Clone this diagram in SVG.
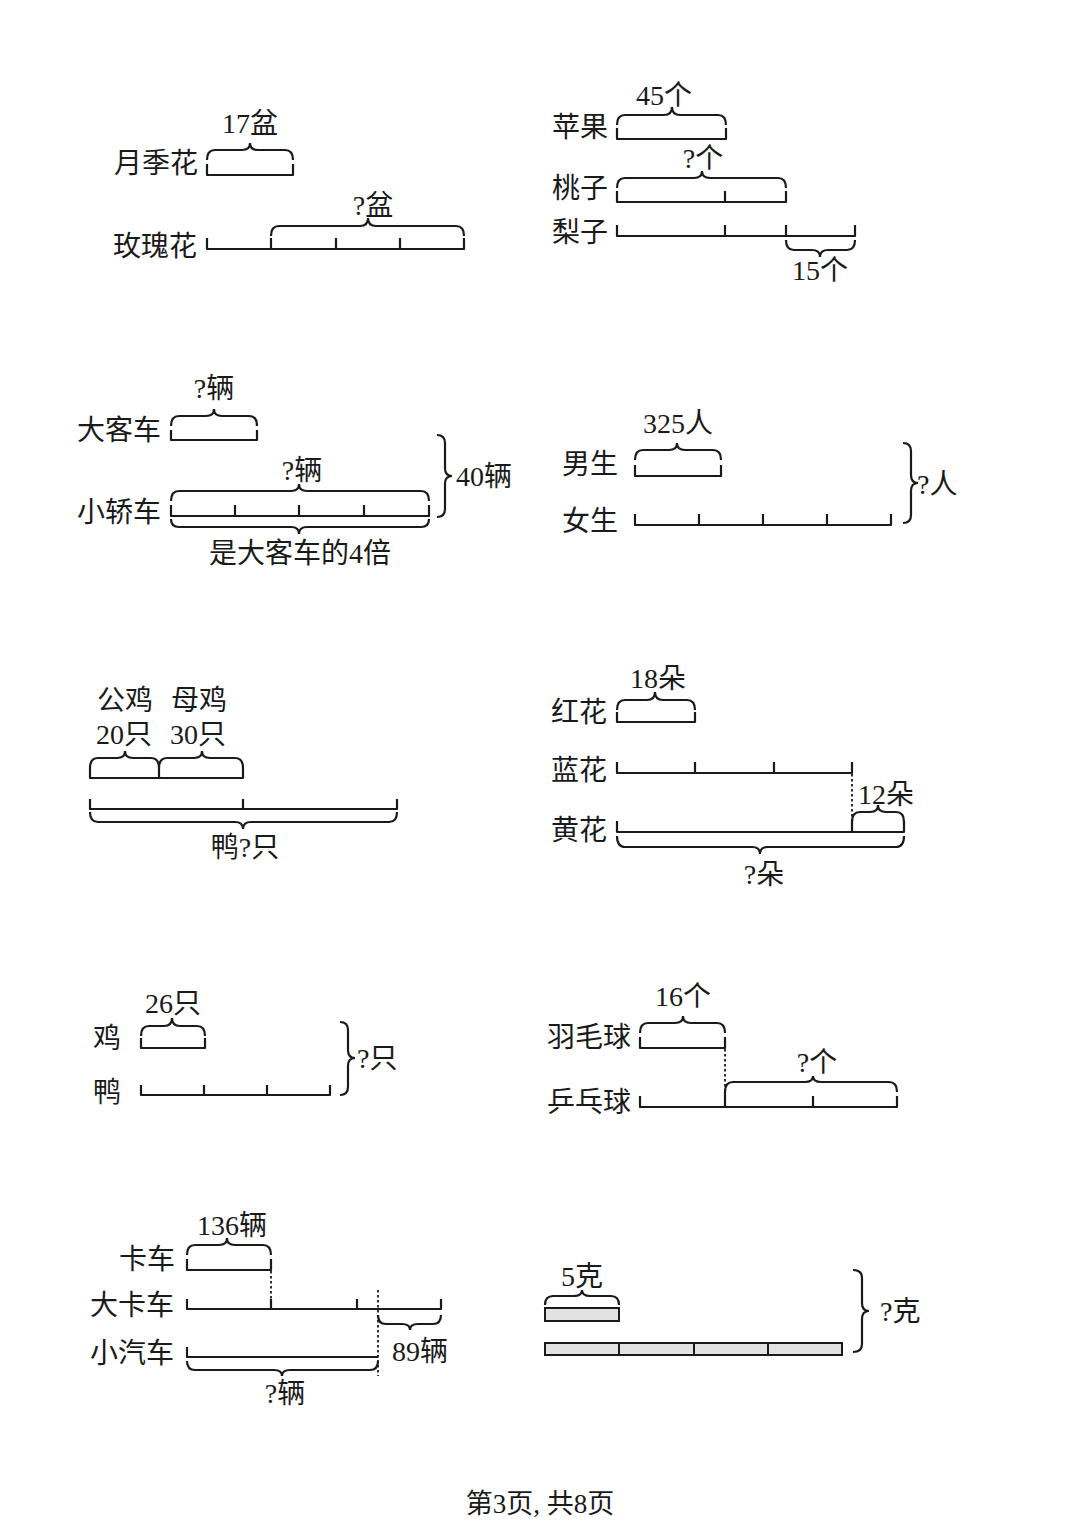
<svg xmlns="http://www.w3.org/2000/svg" width="1080" height="1527" viewBox="0 0 1080 1527">
<style>
.t{font-family:"Liberation Serif","Noto Sans CJK SC",serif;font-size:28px;fill:#1a1a1a}
.m{text-anchor:middle}
.e{text-anchor:end}
.ln{fill:none;stroke:#1a1a1a;stroke-width:2.2;stroke-linejoin:round}
.br{fill:none;stroke:#1a1a1a;stroke-width:2.2}
.dt{fill:none;stroke:#1a1a1a;stroke-width:1.8;stroke-dasharray:2.5 2.5}
.bx{fill:#e2e2e2;stroke:#1a1a1a;stroke-width:2}
</style>
<rect width="1080" height="1527" fill="#ffffff"/>

<g id="p1">
<text class="t m" x="250" y="133">17盆</text>
<text class="t e" x="198" y="173">月季花</text>
<path class="br" d="M207,160 Q207,150 215,150 H242 Q250,150 250,143 Q250,150 258,150 H285 Q293,150 293,160"/>
<path class="ln" d="M207,164 V175 H293 V164"/>
<text class="t m" x="373" y="215">?盆</text>
<text class="t e" x="197" y="256">玫瑰花</text>
<path class="br" d="M271,236 Q271,226 279,226 H360 Q368,226 368,218 Q368,226 376,226 H456 Q464,226 464,236"/>
<path class="ln" d="M207,238 V249 H464 V238 M271,238 V249 M336,238 V249 M400,238 V249"/>
</g>

<g id="p2">
<text class="t m" x="664" y="105">45个</text>
<text class="t e" x="608" y="137">苹果</text>
<path class="br" d="M617,125 Q617,115 625,115 H664 Q672,115 672,107 Q672,115 680,115 H718 Q726,115 726,125"/>
<path class="ln" d="M617,128 V139 H726 V128"/>
<text class="t m" x="703" y="168">?个</text>
<text class="t e" x="608" y="198">桃子</text>
<path class="br" d="M617,188 Q617,178 625,178 H694 Q702,178 702,171 Q702,178 710,178 H778 Q786,178 786,188"/>
<path class="ln" d="M617,191 V202 H786 V191 M725,191 V202"/>
<text class="t e" x="608" y="242">梨子</text>
<path class="ln" d="M617,225 V236 H855 V225 M725,225 V236 M786,225 V236"/>
<path class="br" d="M786,240 Q786,250 794,250 H812 Q820,250 820,257 Q820,250 828,250 H847 Q855,250 855,240"/>
<text class="t m" x="820" y="280">15个</text>
</g>

<g id="p3">
<text class="t m" x="214" y="398">?辆</text>
<text class="t e" x="161" y="440">大客车</text>
<path class="br" d="M171,426 Q171,416 179,416 H206 Q214,416 214,409 Q214,416 222,416 H249 Q257,416 257,426"/>
<path class="ln" d="M171,430 V440 H257 V430"/>
<text class="t m" x="302" y="480">?辆</text>
<text class="t e" x="161" y="522">小轿车</text>
<path class="br" d="M171,501 Q171,491 179,491 H291 Q299,491 299,484 Q299,491 307,491 H421 Q429,491 429,501"/>
<path class="ln" d="M171,505 V516 H429 V505 M235,505 V516 M299,505 V516 M364,505 V516"/>
<path class="br" d="M171,519 Q171,527 179,527 H291 Q299,527 299,534 Q299,527 307,527 H421 Q429,527 429,519"/>
<text class="t m" x="300" y="563">是大客车的4倍</text>
<path class="br" d="M437,435 Q445,435 445,443 V468 Q445,476 452,476 Q445,476 445,484 V509 Q445,517 437,517"/>
<text class="t" x="456" y="486">40辆</text>
</g>

<g id="p4">
<text class="t m" x="678" y="433">325人</text>
<text class="t e" x="618" y="474">男生</text>
<path class="br" d="M635,460 Q635,450 643,450 H669 Q677,450 677,443 Q677,450 685,450 H713 Q721,450 721,460"/>
<path class="ln" d="M635,465 V476 H721 V465"/>
<text class="t e" x="618" y="531">女生</text>
<path class="ln" d="M635,514 V525 H891 V514 M699,514 V525 M763,514 V525 M827,514 V525"/>
<path class="br" d="M903,443 Q911,443 911,451 V475 Q911,483 918,483 Q911,483 911,491 V515 Q911,523 903,523"/>
<text class="t" x="917" y="494">?人</text>
</g>

<g id="p5">
<text class="t m" x="125" y="710">公鸡</text>
<text class="t m" x="199" y="710">母鸡</text>
<text class="t m" x="124" y="744">20只</text>
<text class="t m" x="198" y="744">30只</text>
<path class="br" d="M90,768 Q90,758 98,758 H117 Q125,758 125,751 Q125,758 133,758 H151 Q159,758 159,768"/>
<path class="br" d="M159,768 Q159,758 167,758 H194 Q202,758 202,751 Q202,758 210,758 H235 Q243,758 243,768"/>
<path class="ln" d="M90,768 V778 H243 V768 M159,768 V778"/>
<path class="ln" d="M90,799 V809 H397 V799 M243,799 V809"/>
<path class="br" d="M90,812 Q90,822 98,822 H235 Q243,822 243,829 Q243,822 251,822 H389 Q397,822 397,812"/>
<text class="t m" x="245" y="857">鸭?只</text>
</g>

<g id="p6">
<text class="t m" x="658" y="688">18朵</text>
<text class="t e" x="607" y="722">红花</text>
<path class="br" d="M617,710 Q617,700 625,700 H647 Q655,700 655,692 Q655,700 663,700 H687 Q695,700 695,710"/>
<path class="ln" d="M617,712 V722 H695 V712"/>
<text class="t e" x="607" y="780">蓝花</text>
<path class="ln" d="M617,762 V773 H852 V762 M695,762 V773 M774,762 V773"/>
<path class="dt" d="M852,774 V820"/>
<text class="t m" x="886" y="804">12朵</text>
<path class="br" d="M852,822 Q852,812 860,812 H870 Q878,812 878,805 Q878,812 886,812 H896 Q904,812 904,822"/>
<text class="t e" x="607" y="840">黄花</text>
<path class="ln" d="M617,821 V832 H904 V821 M852,820 V832"/>
<path class="br" d="M617,836 Q617,847 625,847 H752 Q760,847 760,854 Q760,847 768,847 H896 Q904,847 904,836"/>
<text class="t m" x="764" y="884">?朵</text>
</g>

<g id="p7">
<text class="t m" x="173" y="1013">26只</text>
<text class="t e" x="121" y="1048">鸡</text>
<path class="br" d="M141,1036 Q141,1026 149,1026 H164 Q172,1026 172,1018 Q172,1026 180,1026 H197 Q205,1026 205,1036"/>
<path class="ln" d="M141,1038 V1048 H205 V1038"/>
<text class="t e" x="121" y="1102">鸭</text>
<path class="ln" d="M141,1085 V1095 H330 V1085 M204,1085 V1095 M267,1085 V1095"/>
<path class="br" d="M340,1022 Q348,1022 348,1030 V1050 Q348,1058 355,1058 Q348,1058 348,1066 V1087 Q348,1095 340,1095"/>
<text class="t" x="357" y="1068">?只</text>
</g>

<g id="p8">
<text class="t m" x="683" y="1006">16个</text>
<text class="t e" x="631" y="1047">羽毛球</text>
<path class="br" d="M640,1033 Q640,1023 648,1023 H675 Q683,1023 683,1016 Q683,1023 691,1023 H717 Q725,1023 725,1033"/>
<path class="ln" d="M640,1037 V1048 H725 V1037"/>
<path class="dt" d="M725,1049 V1092"/>
<text class="t m" x="817" y="1072">?个</text>
<path class="br" d="M725,1092 Q725,1082 733,1082 H805 Q813,1082 813,1076 Q813,1082 821,1082 H889 Q897,1082 897,1092"/>
<text class="t e" x="631" y="1112">乒乓球</text>
<path class="ln" d="M640,1096 V1107 H897 V1096 M725,1092 V1107 M813,1096 V1107"/>
</g>

<g id="p9">
<text class="t m" x="232" y="1235">136辆</text>
<text class="t e" x="175" y="1269">卡车</text>
<path class="br" d="M187,1255 Q187,1245 195,1245 H219 Q227,1245 227,1238 Q227,1245 235,1245 H263 Q271,1245 271,1255"/>
<path class="ln" d="M187,1259 V1270 H271 V1259"/>
<path class="dt" d="M271,1271 V1299"/>
<text class="t e" x="174" y="1315">大卡车</text>
<path class="ln" d="M187,1299 V1309 H441 V1299 M271,1299 V1309 M357,1299 V1309"/>
<path class="dt" d="M378,1290 V1376"/>
<path class="br" d="M378,1315 Q378,1324 386,1324 H402 Q410,1324 410,1330 Q410,1324 418,1324 H433 Q441,1324 441,1315"/>
<text class="t m" x="420" y="1361">89辆</text>
<text class="t e" x="174" y="1363">小汽车</text>
<path class="ln" d="M187,1347 V1357 H378"/>
<path class="br" d="M187,1361 Q187,1370 195,1370 H274 Q282,1370 282,1376 Q282,1370 290,1370 H370 Q378,1370 378,1361"/>
<text class="t m" x="285" y="1403">?辆</text>
</g>

<g id="p10">
<text class="t m" x="582" y="1286">5克</text>
<path class="br" d="M545,1305 Q545,1296 553,1296 H574 Q582,1296 582,1290 Q582,1296 590,1296 H611 Q619,1296 619,1305"/>
<rect class="bx" x="545" y="1308" width="74" height="13"/>
<rect class="bx" x="545" y="1343" width="74" height="12"/>
<rect class="bx" x="619" y="1343" width="75" height="12"/>
<rect class="bx" x="694" y="1343" width="74" height="12"/>
<rect class="bx" x="768" y="1343" width="74" height="12"/>
<path class="br" d="M853,1270 Q862,1270 862,1278 V1303 Q862,1311 869,1311 Q862,1311 862,1319 V1344 Q862,1352 853,1352"/>
<text class="t" x="880" y="1321">?克</text>
</g>

<g id="footer">
<text class="t m" x="540" y="1513" style="font-size:27px">第3页, 共8页</text>
</g>
</svg>
